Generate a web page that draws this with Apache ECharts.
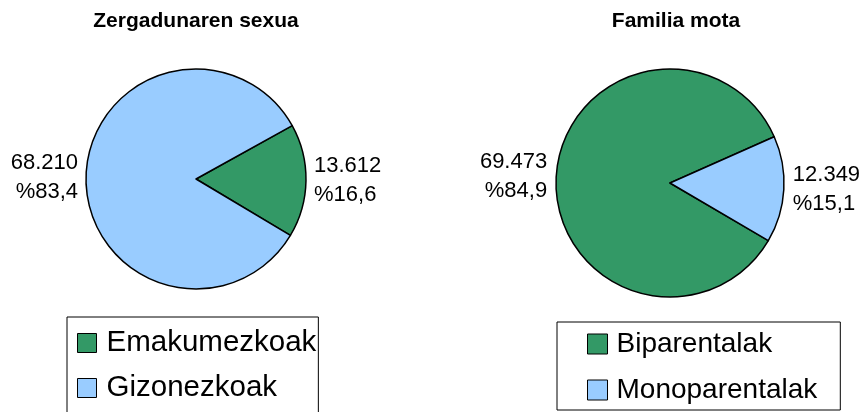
<!DOCTYPE html>
<html>
<head>
    <meta charset="utf-8">
    <title>ECharts</title>
    <script src="https://cdn.jsdelivr.net/npm/echarts@6/dist/echarts.min.js"></script>
</head>
<body style="margin:0;background:#fff">
    <div id="main" style="width: 860px;height:412px;"></div>
    <script type="text/javascript">
        // datuak
        var sexuaIzenak = ['Emakumezkoak', 'Gizonezkoak'];
        var sexuaBalioak = [13612, 68210];
        var familiaIzenak = ['Biparentalak', 'Monoparentalak'];
        var familiaBalioak = [69473, 12349];
        var koloreak = ['#339966', '#99ccff'];

        var letra = 'Liberation Sans, Arial, sans-serif';

        function zenbakia(v) {
            return String(v).replace(/\B(?=(\d{3})+(?!\d))/g, '.');
        }

        function datuak(izenak, balioak) {
            var d = [];
            for (var i = 0; i < izenak.length; i++) {
                d.push({ name: izenak[i], value: balioak[i], itemStyle: { color: koloreak[i] } });
            }
            return d;
        }

        var etiketa = {
            show: true,
            position: 'outside',
            color: '#000',
            fontFamily: letra,
            fontSize: 22,
            lineHeight: 29,
            formatter: function (p) {
                return zenbakia(p.value) + '\n%' + p.percent.toFixed(1).replace('.', ',');
            }
        };

        var myChart = echarts.init(document.getElementById('main'));

        var option = {
            animation: false,
            title: [
                { text: 'Zergadunaren sexua', left: 191, top: 6, textAlign: 'center',
                  textStyle: { fontFamily: letra, fontSize: 21, fontWeight: 'bold', color: '#000' } },
                { text: 'Familia mota', left: 671, top: 6, textAlign: 'center',
                  textStyle: { fontFamily: letra, fontSize: 21, fontWeight: 'bold', color: '#000' } }
            ],
            legend: [
                {
                    data: sexuaIzenak, orient: 'vertical', left: 67, top: 317, height: 120,
                    icon: 'rect', itemWidth: 19, itemHeight: 19, itemGap: 15,
                    padding: [11, 2, 14, 10],
                    borderColor: '#000', borderWidth: 1,
                    itemStyle: { borderColor: '#000', borderWidth: 1 },
                    textStyle: { fontFamily: letra, fontSize: 29.5, color: '#000', padding: [0, 0, 0, 5] }
                },
                {
                    data: familiaIzenak, orient: 'vertical', left: 557, top: 322, height: 120,
                    icon: 'rect', itemWidth: 20, itemHeight: 20, itemGap: 18,
                    padding: [8, 23, 6, 30],
                    borderColor: '#000', borderWidth: 1,
                    itemStyle: { borderColor: '#000', borderWidth: 1 },
                    textStyle: { fontFamily: letra, fontSize: 28, color: '#000', padding: [0, 0, 0, 4] }
                }
            ],
            series: [
                {
                    type: 'pie',
                    center: [196, 179],
                    radius: 110,
                    startAngle: 29,
                    clockwise: true,
                    avoidLabelOverlap: false,
                    itemStyle: { borderColor: '#000', borderWidth: 1.5 },
                    label: etiketa,
                    labelLine: { show: false, length: 3, length2: 0 },
                    emphasis: { disabled: true },
                    data: datuak(sexuaIzenak, sexuaBalioak)
                },
                {
                    type: 'pie',
                    center: [670, 183],
                    radius: 114,
                    startAngle: 329.6,
                    clockwise: true,
                    avoidLabelOverlap: false,
                    itemStyle: { borderColor: '#000', borderWidth: 1.5 },
                    label: etiketa,
                    labelLine: { show: false, length: 4, length2: 0 },
                    emphasis: { disabled: true },
                    data: datuak(familiaIzenak, familiaBalioak)
                }
            ]
        };

        myChart.setOption(option);
    </script>
</body>
</html>
